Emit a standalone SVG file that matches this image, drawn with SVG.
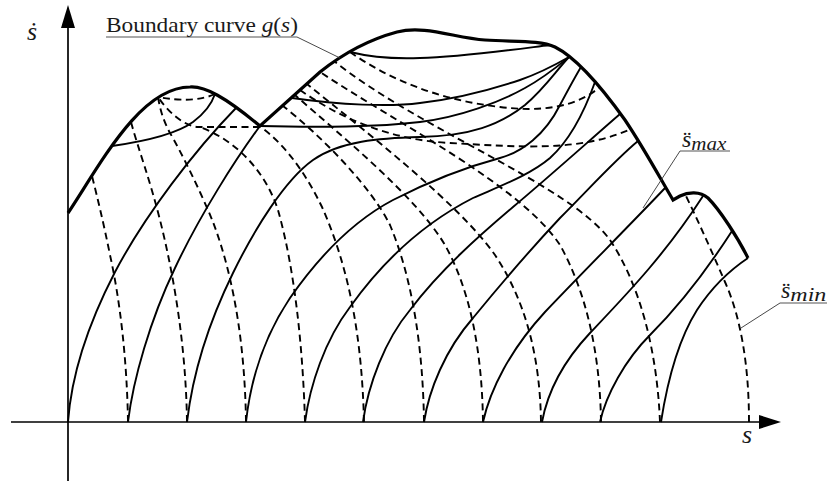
<svg xmlns="http://www.w3.org/2000/svg" width="827" height="485" viewBox="0 0 827 485">
<style>
.ax{stroke:#000;stroke-width:1.7;fill:none}
.bd{stroke:#000;stroke-width:3.2;fill:none;stroke-linejoin:miter}
.so{stroke:#000;stroke-width:1.9;fill:none}
.da{stroke:#000;stroke-width:1.9;fill:none;stroke-dasharray:7 4.5}
.ld{stroke:#333;stroke-width:0.9;fill:none}
.ul{stroke:#555;stroke-width:1.1;fill:none}
.lb{font-family:"Liberation Serif","DejaVu Serif",serif;fill:#1a1a1a}
.it{font-style:italic}
</style>
<rect width="827" height="485" fill="#fff"/>
<g id="axes">
<line class="ax" x1="11" y1="422" x2="762" y2="422"/>
<polygon points="759,415 781,422 759,429" fill="#000"/>
<line class="ax" x1="68" y1="481" x2="68" y2="26"/>
<polygon points="61,28 68,5 75,28" fill="#000"/>
</g>
<g id="connectors">
<g id="dashed-curves">
<path class="da" d="M215,94 C200,101 180,101 158,97"/>
<path class="da" d="M260,127 L198,127 C184,126 168,112 158,97"/>
<path class="da" d="M128,422 C127,360 120,300 110,255 C104,225 98,200 92,176"/>
<path class="da" d="M187,422 C186,350 175,280 160,220 C150,180 138,148 131,122"/>
<path class="da" d="M246,422 C245,350 235,280 213,222 C200,190 180,150 170,133 C164,122 160,110 158,97"/>
<path class="da" d="M305,422 C303,350 295,270 278,210 C265,170 235,140 200,127"/>
<path class="da" d="M364,422 C362,340 350,270 322,207 C305,172 285,145 262,128"/>
<path class="da" d="M424,422 C423,350 413,280 390,225 C370,185 320,135 283,106"/>
<path class="da" d="M483,422 C482,350 470,290 445,245 C415,195 340,135 295,95"/>
<path class="da" d="M541,422 C540,355 525,300 495,255 C460,205 370,135 307,84"/>
<path class="da" d="M601,422 C600,350 585,290 560,245 C520,185 400,125 320,72"/>
<path class="da" d="M660,422 C657,350 640,285 610,240 C570,185 420,130 334,61"/>
<path class="da" d="M749,422 C749,370 742,320 725,282 C712,252 700,225 686,196"/>
<path class="da" d="M350,52 C390,80 440,100 500,107 C540,112 575,108 600,87"/>
<path class="da" d="M300,90 C340,118 390,140 450,143 C520,147 580,152 631,129"/>
</g>
<g id="solid-curves">
<path class="so" d="M68,422 C71,380 85,330 115,272 C145,215 195,150 236,108"/>
<path class="so" d="M128,422 C133,380 150,320 175,268 C200,215 235,160 260,126"/>
<path class="so" d="M187,422 C192,380 205,330 233,273 C255,228 285,180 313,160 C340,141 380,138 420,137 C470,136 500,125 525,105 C545,88 555,72 569,57"/>
<path class="so" d="M246,422 C250,385 262,340 290,298 C320,255 355,220 393,200 C430,181 470,166 500,158 C522,152 545,135 560,105 C568,90 575,77 581,67"/>
<path class="so" d="M305,422 C310,385 325,340 350,307 C380,265 420,225 473,198 C500,186 530,175 550,158 C570,140 585,110 595,82"/>
<path class="so" d="M363,422 C368,385 385,340 410,310 C440,270 480,235 513,207 C550,176 590,140 620,114"/>
<path class="so" d="M424,422 C429,390 445,350 473,318 C500,285 530,250 560,218 C590,188 615,160 638,141"/>
<path class="so" d="M483,422 C490,390 510,350 545,312 C580,275 630,225 666,187"/>
<path class="so" d="M542,422 C547,395 560,365 590,333 C625,296 665,255 703,196"/>
<path class="so" d="M600,422 C606,395 625,360 650,335 C685,300 712,262 732,231"/>
<path class="so" d="M661,422 C666,390 675,345 697,310 C712,287 730,270 748,258"/>
<path class="so" d="M112,146 C140,142 175,135 193,122 C205,113 212,103 215,94"/>
<path class="so" d="M350,52 C370,57 395,59 420,58 C460,57 510,50 550,45"/>
<path class="so" d="M292,98 C340,105 390,107 420,103 C455,99 490,90 520,80 C540,73 555,65 569,57"/>
<path class="so" d="M260,126 C300,127 370,128 420,122 C460,117 500,102 525,88 C545,77 558,66 569,57"/>
</g>
<g id="boundary">
<path class="bd" d="M68,213 C100,165 140,87 190,87 C205,86 225,97 260,126 L320,72 C335,60 360,42 397,32 C425,25 455,38 485,40 C515,42 540,40 555,47 C575,57 600,85 625,120 C645,150 660,178 673,200 L680,196 C688,192 700,191 708,198 C720,210 738,238 748,258"/>
</g>
<g id="leaders">
<line class="ul" x1="106" y1="37" x2="297" y2="37"/>
<line class="ld" x1="297" y1="37" x2="340" y2="58"/>
<line class="ul" x1="680" y1="151" x2="730" y2="151"/>
<line class="ld" x1="680" y1="151" x2="643" y2="208"/>
<line class="ul" x1="780" y1="303" x2="827" y2="303"/>
<line class="ld" x1="780" y1="303" x2="741" y2="328"/>
</g>
</g>
<g id="labels">
<text class="lb it" x="27" y="40" font-size="26">ṡ</text>
<text class="lb it" x="742" y="443" font-size="26">s</text>
<text class="lb" x="106" y="32" font-size="22" textLength="192" lengthAdjust="spacingAndGlyphs">Boundary curve <tspan class="it">g</tspan>(<tspan class="it">s</tspan>)</text>
<text class="lb it" x="682" y="147" font-size="24">s̈<tspan font-size="19" dy="3" textLength="35" lengthAdjust="spacingAndGlyphs">max</tspan></text>
<text class="lb it" x="781" y="298" font-size="24">s̈<tspan font-size="19" dy="3" textLength="36" lengthAdjust="spacingAndGlyphs">min</tspan></text>
</g>
</svg>
